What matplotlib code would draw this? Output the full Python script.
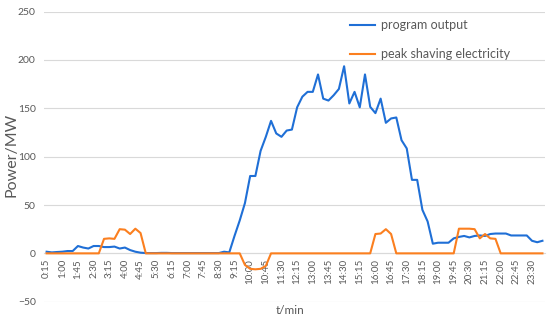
import numpy as np
import matplotlib
matplotlib.use('Agg')
import matplotlib.pyplot as plt

# 15-minute steps from 0:15 to 24:00
program_output = [1.7, 1, 1.4, 1.7, 2.4, 2.4, 7.6, 6, 5, 7.6,
                  7.6, 6.5, 6.5, 7, 5, 6, 3.4, 1.7, 0.7, 0.3,
                  0.3, 0.3, 0.5, 0.5, 0.3, 0.3, 0.3, 0.3, 0.3, 0.3,
                  0.3, 0.3, 0.3, 0.3, 1.7, 1, 18, 34, 52, 80,
                  80, 106, 120.5, 137, 124, 120.5, 127, 128, 151, 162,
                  167, 167, 185, 160, 158, 163.5, 170, 193.5, 155, 167,
                  151, 185, 151.5, 145, 160, 135, 139.5, 140.5, 117, 108.5,
                  76, 76, 45, 33, 10, 11, 11, 11, 15.5, 17,
                  18, 16.5, 18, 18.5, 18, 20, 20.5, 20.5, 20.5, 18.5,
                  18.5, 18.5, 18.5, 13, 11.5, 13]

peak_shaving = [0] * 11 + [15, 15.5, 15, 25, 24.5, 20, 25.5, 21] + [0] * 19 \
    + [-12, -16, -16.5, -16, -13] + [0] * 20 + [20, 20.5, 25, 20] + [0] * 12 \
    + [25.5, 25.5, 25.5, 25, 15.5, 20, 15.5, 15] + [0] * 9

tick_labels = ['0:15', '1:00', '1:45', '2:30', '3:15', '4:00', '4:45', '5:30',
               '6:15', '7:00', '7:45', '8:30', '9:15', '10:00', '10:45', '11:30',
               '12:15', '13:00', '13:45', '14:30', '15:15', '16:00', '16:45', '17:30',
               '18:15', '19:00', '19:45', '20:30', '21:15', '22:00', '22:45', '23:30']

y_ticks = [-50, 0, 50, 100, 150, 200, 250]

plt.rcParams['font.family'] = ['Lato', 'DejaVu Sans']
grey = '#595959'

fig = plt.figure(figsize=(5.5, 3.22), dpi=100)
ax = fig.add_axes([0.08, 0.063, 0.911, 0.901])

# move the category axis to zero first (this resets tick styling)
for s in ['top', 'right', 'left']:
    ax.spines[s].set_visible(False)
ax.spines['bottom'].set_position(('data', 0))
ax.spines['bottom'].set_color('#d9d9d9')
ax.spines['bottom'].set_linewidth(0.8)

x = np.arange(len(program_output))
ax.plot(x, program_output, color='#1f6fd6', lw=1.5, solid_joinstyle='round',
        label='program output', zorder=3)
ax.plot(x, peak_shaving, color='#fb7f1f', lw=1.5, solid_joinstyle='round',
        label='peak shaving electricity', zorder=3)

ax.set_xlim(-0.5, len(program_output) - 0.5)
ax.set_ylim(-50, 250)
ax.set_yticks(y_ticks)
ax.set_xticks(x[::3])
ax.set_xticklabels(tick_labels, rotation=90)
ax.grid(axis='y', color='#d9d9d9', lw=0.8)
ax.set_axisbelow(True)

ax.tick_params(axis='x', length=0, pad=4, labelsize=7, labelcolor=grey)
ax.tick_params(axis='y', length=0, pad=6, labelsize=7.5, labelcolor=grey)

fig.text(12 / 550, 1 - 155 / 322, 'Power/MW', rotation=90, ha='center',
         va='center', fontsize=11.5, color=grey)
fig.text(0.528, 1 - 310 / 322, 't/min', ha='center', va='center',
         fontsize=8.5, color=grey)

ax.legend(loc='upper left', bbox_to_anchor=(350 / 550, 1 - 19 / 322),
          bbox_transform=fig.transFigure, frameon=False, fontsize=9,
          labelcolor=grey, handlelength=2.0, labelspacing=1.4,
          handletextpad=0.5, borderpad=0, borderaxespad=0)

fig.savefig('out.png', dpi=100)
